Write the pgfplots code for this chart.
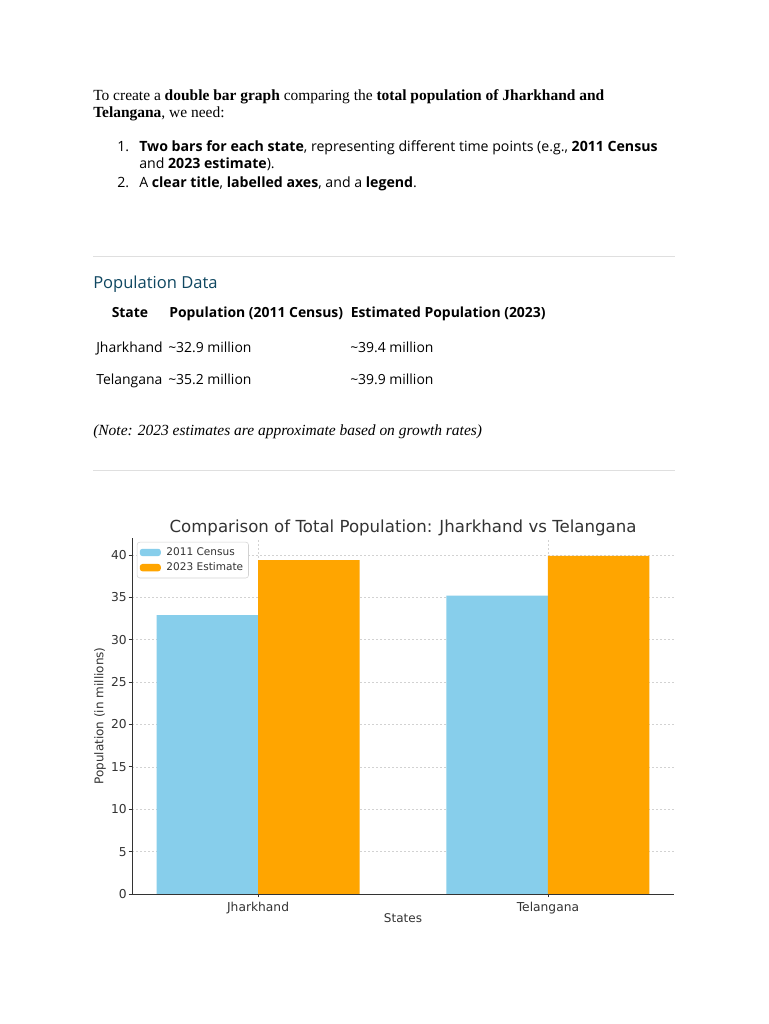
\documentclass[border=0pt]{standalone}
\usepackage{fontspec}
\setmainfont{Liberation Serif}
\newfontfamily\aptos{Open Sans}
\newfontfamily\dejavu{DejaVu Sans}
\usepackage{pgfplots}
\pgfplotsset{compat=1.18}
\definecolor{skyblue}{HTML}{87CEEB}
\definecolor{mplorange}{HTML}{FFA500}
\definecolor{headblue}{HTML}{0F4761}
\definecolor{txtgray}{HTML}{333333}
\begin{document}
\begin{tikzpicture}[x=0.75pt,y=0.75pt]
\fill[white] (0,0) rectangle (768,1024);
\path[use as bounding box] (0,0) rectangle (768,1024);
% paragraph
\node[anchor=base west, inner sep=0] at (93,1024-100.5) {\fontsize{11.6}{13}\selectfont To create a \textbf{double bar graph} comparing the \textbf{total population of Jharkhand and}};
\node[anchor=base west, inner sep=0] at (93,1024-117.5) {\fontsize{11.6}{13}\selectfont \textbf{Telangana}, we need:};
% list
\node[anchor=base west, inner sep=0] at (117,1024-151.5) {\aptos\fontsize{10.6}{12}\selectfont 1.};
\node[anchor=base west, inner sep=0] at (139,1024-151.5) {\aptos\fontsize{10.6}{12}\selectfont \textbf{Two bars for each state}, representing different time points (e.g., \textbf{2011 Census}};
\node[anchor=base west, inner sep=0] at (139,1024-168.5) {\aptos\fontsize{10.6}{12}\selectfont and \textbf{2023 estimate}).};
\node[anchor=base west, inner sep=0] at (117,1024-187.5) {\aptos\fontsize{10.6}{12}\selectfont 2.};
\node[anchor=base west, inner sep=0] at (139,1024-187.5) {\aptos\fontsize{10.6}{12}\selectfont A \textbf{clear title}, \textbf{labelled axes}, and a \textbf{legend}.};
% separators
\draw[gray!25, line width=0.6pt] (93,1024-256) -- (675,1024-256);
\draw[gray!25, line width=0.6pt] (93,1024-470) -- (675,1024-470);
% heading
\node[anchor=base west, inner sep=0, text=headblue] at (93,1024-288.5) {\aptos\fontsize{12.4}{14}\selectfont Population Data};
% table
\node[anchor=base west, inner sep=0] at (111.5,1024-318) {\aptos\fontsize{10.45}{12}\selectfont\bfseries State};
\node[anchor=base west, inner sep=0] at (169,1024-318) {\aptos\fontsize{10.45}{12}\selectfont\bfseries Population (2011 Census)};
\node[anchor=base west, inner sep=0] at (350.5,1024-318) {\aptos\fontsize{10.45}{12}\selectfont\bfseries Estimated Population (2023)};
\node[anchor=base west, inner sep=0] at (96,1024-352.5) {\aptos\fontsize{10.45}{12}\selectfont Jharkhand};
\node[anchor=base west, inner sep=0] at (168,1024-352.5) {\aptos\fontsize{10.45}{12}\selectfont \textasciitilde 32.9 million};
\node[anchor=base west, inner sep=0] at (350,1024-352.5) {\aptos\fontsize{10.45}{12}\selectfont \textasciitilde 39.4 million};
\node[anchor=base west, inner sep=0] at (96,1024-385) {\aptos\fontsize{10.45}{12}\selectfont Telangana};
\node[anchor=base west, inner sep=0] at (168,1024-385) {\aptos\fontsize{10.45}{12}\selectfont \textasciitilde 35.2 million};
\node[anchor=base west, inner sep=0] at (350,1024-385) {\aptos\fontsize{10.45}{12}\selectfont \textasciitilde 39.9 million};
% note
\node[anchor=base west, inner sep=0] at (93,1024-435.5) {\fontsize{11.6}{13}\selectfont\itshape (Note: 2023 estimates are approximate based on growth rates)};
% chart
\begin{axis}[
  at={(99pt,97.5pt)}, anchor=south west,
  scale only axis, width=406.5pt, height=267pt,
  xmin=-0.435, xmax=1.435, ymin=0, ymax=42,
  xtick={0,1}, xticklabels={Jharkhand,Telangana},
  ytick={0,5,...,40},
  axis lines=left, axis line style={-, draw=txtgray, line width=0.7pt},
  tick align=outside, major tick length=2.5pt,
  tick style={txtgray, line width=0.6pt},
  grid=major, grid style={gray!35, dash pattern=on 1.5pt off 1.5pt, line width=0.4pt},
  /pgf/number format/assume math mode=true,
  ticklabel style={font=\dejavu\fontsize{9.2}{11}\selectfont, text=txtgray},
  yticklabel style={xshift=2pt},
  title={Comparison of Total Population: Jharkhand vs Telangana},
  title style={at={(axis description cs:0.5,1.006)}, anchor=center, font=\dejavu\fontsize{12.45}{14}\selectfont, text=txtgray},
  xlabel={States}, ylabel={Population (in millions)},
  xlabel style={at={(axis description cs:0.5,-0.067)}, anchor=center, font=\dejavu\fontsize{9}{11}\selectfont, text=txtgray},
  ylabel style={at={(axis description cs:-0.059,0.5)}, anchor=center, rotate=0, font=\dejavu\fontsize{9}{11}\selectfont, text=txtgray},
  legend style={at={(axis description cs:0.009,0.989)}, anchor=north west, draw=gray!35, rounded corners=2pt,
    font=\dejavu\fontsize{7.9}{9.5}\selectfont, text=txtgray, inner sep=2pt, row sep=0pt},
  legend cell align=left,
  legend image code/.code={\fill[#1] (0pt,-2.75pt) rectangle (15.75pt,2.75pt); \path (18pt,0pt);},
  bar width=0.35,
]
\addplot[ybar, bar shift=-0.175, fill=skyblue, draw=none] coordinates {(0,32.9) (1,35.2)};
\addlegendentry{2011 Census}
\addplot[ybar, bar shift=0.175, fill=mplorange, draw=none] coordinates {(0,39.4) (1,39.9)};
\addlegendentry{2023 Estimate}
\end{axis}
\end{tikzpicture}
\end{document}
